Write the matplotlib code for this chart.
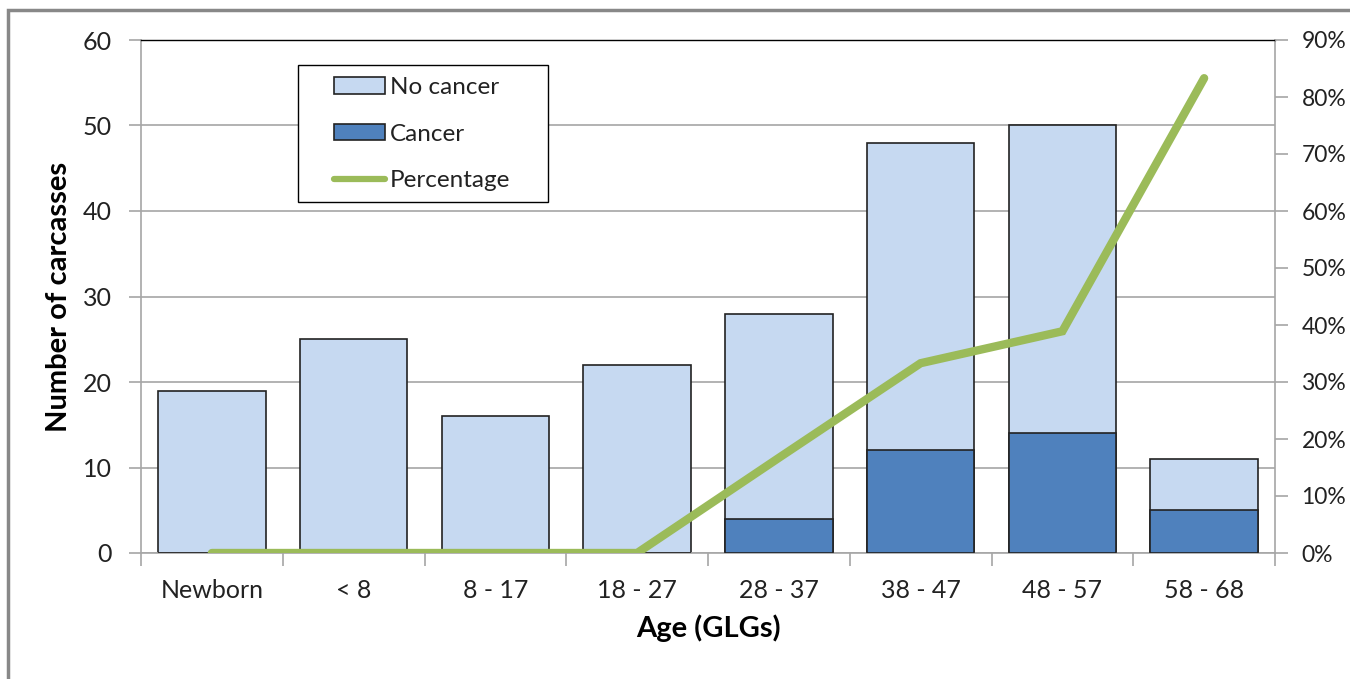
import matplotlib
matplotlib.use("Agg")
import matplotlib.pyplot as plt
from matplotlib.patches import Rectangle, Patch
from matplotlib.lines import Line2D
from matplotlib.ticker import FuncFormatter, MultipleLocator, FixedLocator
import numpy as np

categories = ["Newborn", "< 8", "8 - 17", "18 - 27", "28 - 37", "38 - 47", "48 - 57", "58 - 68"]
total = [19, 25, 16, 22, 28, 48, 50, 11]
cancer = [0, 0, 0, 0, 4, 12, 14, 5]
percentage = [0, 0, 0, 0, 16.7, 33.3, 38.9, 83.3]

plt.rcParams['font.family'] = ['Lato', 'DejaVu Sans']

W, H = 1350, 679
fig = plt.figure(figsize=(W/100, H/100), dpi=100)
left, right, top, bottom = 141, 1275, 40, 553
ax = fig.add_axes([left/W, 1-bottom/H, (right-left)/W, (bottom-top)/H])

# outer frame
fig.patches.append(Rectangle((8/W, -0.1), 1.2, 1 - 10/H + 0.1, transform=fig.transFigure,
                             fill=False, edgecolor='#888888', linewidth=2.5))

x = np.arange(len(categories))
light = '#C6D9F1'
dark = '#4F81BD'
ax.bar(x, total, width=0.76, color=light, edgecolor='#222222', linewidth=1.2, zorder=2)
ax.bar(x, cancer, width=0.76, color=dark, edgecolor='#222222', linewidth=1.2, zorder=3)

ax.set_xlim(-0.5, len(categories)-0.5)
ax.set_ylim(0, 60)
ax.yaxis.set_major_locator(MultipleLocator(10))
ax.grid(axis='y', color='#A6A6A6', linewidth=1.2, zorder=0)
ax.set_axisbelow(True)
ax.set_xticks(x)
ax.set_xticklabels(categories)
ax.xaxis.set_minor_locator(FixedLocator(np.arange(-0.5, len(categories)+0.5, 1)))
ax.tick_params(axis='x', which='major', length=0, pad=19, labelsize=18, colors='#222222')
ax.tick_params(axis='x', which='minor', length=9, width=1.2, color='#A6A6A6', direction='out')
ax.tick_params(axis='y', length=9, width=1.2, color='#A6A6A6', labelsize=18, labelcolor='#222222', pad=12)
for s in ['left', 'bottom', 'right']:
    ax.spines[s].set_color('#A6A6A6')
    ax.spines[s].set_linewidth(1.2)
ax.spines['top'].set_color('#000000')
ax.spines['top'].set_linewidth(1.0)

ax.set_ylabel("Number of carcasses", fontsize=21, fontweight='bold', labelpad=8)
ax.set_xlabel("Age (GLGs)", fontsize=21, fontweight='bold', labelpad=9)

ax2 = ax.twinx()
ax2.set_ylim(0, 90)
ax2.yaxis.set_major_locator(MultipleLocator(10))
ax2.yaxis.set_major_formatter(FuncFormatter(lambda v, p: f"{int(round(v))}%"))
ax2.tick_params(axis='y', length=9, width=1.2, color='#A6A6A6', labelsize=16.5, labelcolor='#222222', pad=10)
for s in ax2.spines.values():
    s.set_visible(False)
green = '#9BBB59'
ax2.plot(x, percentage, color=green, linewidth=6, solid_capstyle='round', solid_joinstyle='miter', zorder=4)

# legend frame
ax_w, ax_h = right-left, bottom-top
ax2.add_patch(Rectangle(((298-left)/ax_w, 1-(202-top)/ax_h), (548-298)/ax_w, (202-65)/ax_h,
                        transform=ax2.transAxes, fill=True, facecolor='white',
                        edgecolor='#000000', linewidth=1.0, zorder=5))
handles = [Patch(facecolor=light, edgecolor='#222222', linewidth=1.2),
           Patch(facecolor=dark, edgecolor='#222222', linewidth=1.2),
           Line2D([0], [0], color=green, linewidth=4.5, solid_capstyle='round')]
leg = ax2.legend(handles, ["No cancer", "Cancer", "Percentage"],
                 loc='upper left', bbox_to_anchor=((334-left)/ax_w, 1-(77-top)/ax_h),
                 frameon=False, fontsize=17.5,
                 handlelength=2.1, handleheight=0.65, handletextpad=0.2, labelspacing=1.05,
                 borderpad=0, borderaxespad=0, labelcolor='#222222')
leg.set_zorder(6)

fig.savefig("out.png", dpi=100)
